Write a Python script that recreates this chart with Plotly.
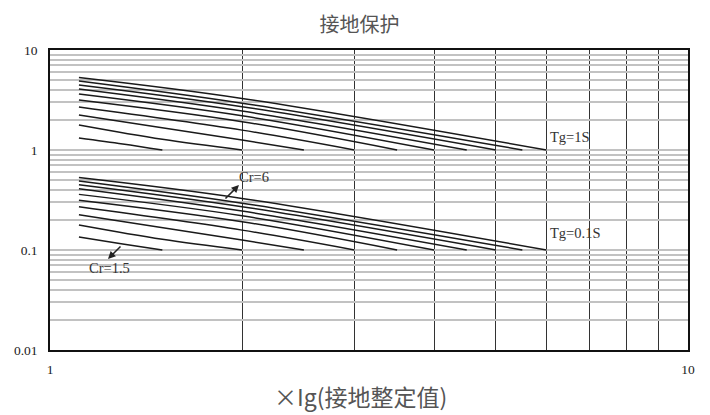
import plotly.graph_objects as go

# ---- data ----
cr_values = [1.5, 2, 2.5, 3, 3.5, 4, 4.5, 5, 5.5, 6]
i_start = 1.11
# Tg = 1S group
t1_start = [1.32, 1.78, 2.24, 2.69, 3.16, 3.63, 4.07, 4.47, 4.90, 5.31]
i_mid = [1.3, 1.5, 2, 2, 2, 2, 2, 2, 2, 2]
t1_mid = [1.15, 1.28, 1.26, 1.58, 1.92, 2.20, 2.45, 2.71, 2.94, 3.28]
t1_end = [1, 1, 1, 1, 1, 1, 1, 1, 1, 1]
# Tg = 0.1S group
t01_start = [0.135, 0.178, 0.225, 0.27, 0.315, 0.36, 0.41, 0.45, 0.49, 0.53]
t01_mid = [0.115, 0.128, 0.126, 0.158, 0.192, 0.22, 0.245, 0.271, 0.294, 0.328]
t01_end = [0.1, 0.1, 0.1, 0.1, 0.1, 0.1, 0.1, 0.1, 0.1, 0.1]

x_tickvals = [1, 2, 3, 4, 5, 6, 7, 8, 9, 10]
x_ticktext = ["1", "", "", "", "", "", "", "", "", "10"]
y_tickvals = []
y_ticktext = []
for dec in [0.01, 0.1, 1]:
    for m in range(1, 10):
        y_tickvals.append(round(dec * m, 4))
        y_ticktext.append(str(dec) if m == 1 else "")
y_tickvals.append(10)
y_ticktext.append("10")
major_y = [0.1, 1]

fig = go.Figure()
for k, cr in enumerate(cr_values):
    for ts, tm, te in [(t1_start, t1_mid, t1_end), (t01_start, t01_mid, t01_end)]:
        fig.add_trace(go.Scatter(
            x=[i_start, i_mid[k], cr], y=[ts[k], tm[k], te[k]],
            mode="lines", line=dict(color="#1a1a1a", width=1.5, shape="spline"),
            showlegend=False, hoverinfo="skip"))

for yv in major_y:
    fig.add_hline(y=yv, line=dict(color="#222", width=1.5), layer="below")

serif = "Liberation Serif, Times New Roman, serif"
ann_font = dict(family=serif, size=14.5, color="#333")
fig.add_annotation(x=0.7806, y=0.13, text="Tg=1S", showarrow=False, xanchor="left", font=ann_font)
fig.add_annotation(x=0.7806, y=-0.83, text="Tg=0.1S", showarrow=False, xanchor="left", font=ann_font)
fig.add_annotation(x=0.3197, y=-0.27, text="Cr=6", showarrow=False, font=ann_font)
fig.add_annotation(x=0.0925, y=-1.18, text="Cr=1.5", showarrow=False, font=ann_font)
fig.add_annotation(x=0.2962, y=-0.35, ax=-15, ay=15, text="", showarrow=True,
                   arrowhead=2, arrowsize=1, arrowwidth=1.5, arrowcolor="#222")
fig.add_annotation(x=0.0909, y=-1.09, ax=14, ay=-14, text="", showarrow=True,
                   arrowhead=2, arrowsize=1, arrowwidth=1.5, arrowcolor="#222")
# x-axis title
fig.add_annotation(xref="paper", yref="paper", x=0.486, y=-0.153, xanchor="center",
                   yanchor="middle", showarrow=False, text="×Ig(接地整定值)",
                   font=dict(family="Noto Sans CJK SC", size=23, color="#555"))

fig.update_layout(
    width=710, height=415,
    margin=dict(l=42, r=30, t=42, b=73, autoexpand=False),
    paper_bgcolor="white", plot_bgcolor="white",
    title=dict(text="接地保护", x=0.495, xanchor="center", xref="container",
               y=0.975, yanchor="top", yref="container", automargin=False,
               pad=dict(t=0, b=0),
               font=dict(family="Noto Sans CJK SC", size=20, color="#555")),
    showlegend=False,
)
fig.update_xaxes(type="log", range=[0, 1], tickvals=x_tickvals, ticktext=x_ticktext,
                 showgrid=True, gridcolor="#333", gridwidth=1, zeroline=False,
                 showline=True, linecolor="#111", linewidth=1.5, mirror=True, ticks="",
                 ticklabelstandoff=6, automargin=False,
                 tickfont=dict(family=serif, size=13.5, color="#222"))
fig.update_yaxes(type="log", range=[-2, 1], tickvals=y_tickvals, ticktext=y_ticktext,
                 showgrid=True, gridcolor="#c2c2c2", gridwidth=2, zeroline=False,
                 showline=True, linecolor="#111", linewidth=1.5, mirror=True, ticks="",
                 ticklabelstandoff=8, automargin=False,
                 tickfont=dict(family=serif, size=13.5, color="#222"))

fig.write_html("out.html")
